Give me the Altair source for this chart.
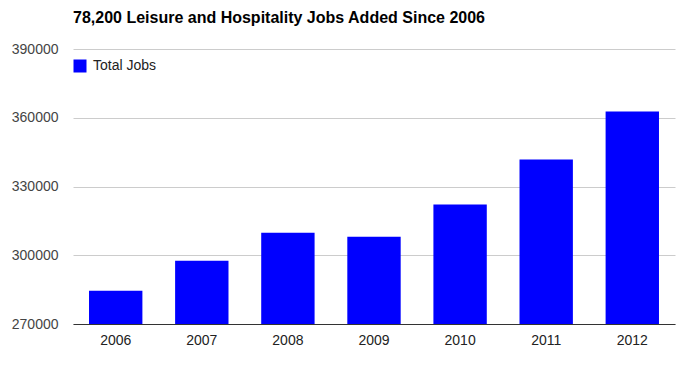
import altair as alt
import pandas as pd

years = ["2006", "2007", "2008", "2009", "2010", "2011", "2012"]
jobs = [284500, 297600, 309800, 308100, 322100, 341800, 362700]
series = ["Total Jobs"] * len(years)
y_ticks = [270000, 300000, 330000, 360000, 390000]

df = pd.DataFrame({"year": years, "jobs": jobs, "series": series})

chart = alt.Chart(df).mark_bar(clip=True).encode(
    x=alt.X("year:N", title=None, sort=years,
            scale=alt.Scale(paddingInner=0.38, paddingOuter=0.186),
            axis=alt.Axis(labelAngle=0, ticks=False, domainColor="#333333",
                          domainWidth=1, labelFontSize=14, labelColor="#222222",
                          labelPadding=9, grid=False)),
    y=alt.Y("jobs:Q", title=None,
            scale=alt.Scale(domain=[270000, 390000], zero=False, nice=False),
            axis=alt.Axis(values=y_ticks, format="d", ticks=False, domain=False,
                          gridColor="#cccccc", gridWidth=1, labelFontSize=14,
                          labelColor="#444444", labelPadding=15)),
    color=alt.Color("series:N", title=None,
                    scale=alt.Scale(range=["#0000ff"]),
                    legend=alt.Legend(orient="none", legendX=0, legendY=10,
                                      symbolType="square", symbolSize=169,
                                      symbolStrokeWidth=0, labelFontSize=14,
                                      labelColor="#222222", padding=0,
                                      labelOffset=6)),
).properties(
    width=602,
    height=275,
    title=alt.Title("78,200 Leisure and Hospitality Jobs Added Since 2006",
                    anchor="start", frame="group", fontSize=16, fontWeight="bold",
                    color="#000000", offset=0, baseline="bottom"),
    autosize=alt.AutoSizeParams(type="none"),
    padding={"left": 65, "top": 41, "right": 7, "bottom": 34},
).configure(
    font="Liberation Sans",
).configure_view(
    stroke=None,
)

chart.save("out.html", embed_options={"renderer": "svg", "actions": False})
